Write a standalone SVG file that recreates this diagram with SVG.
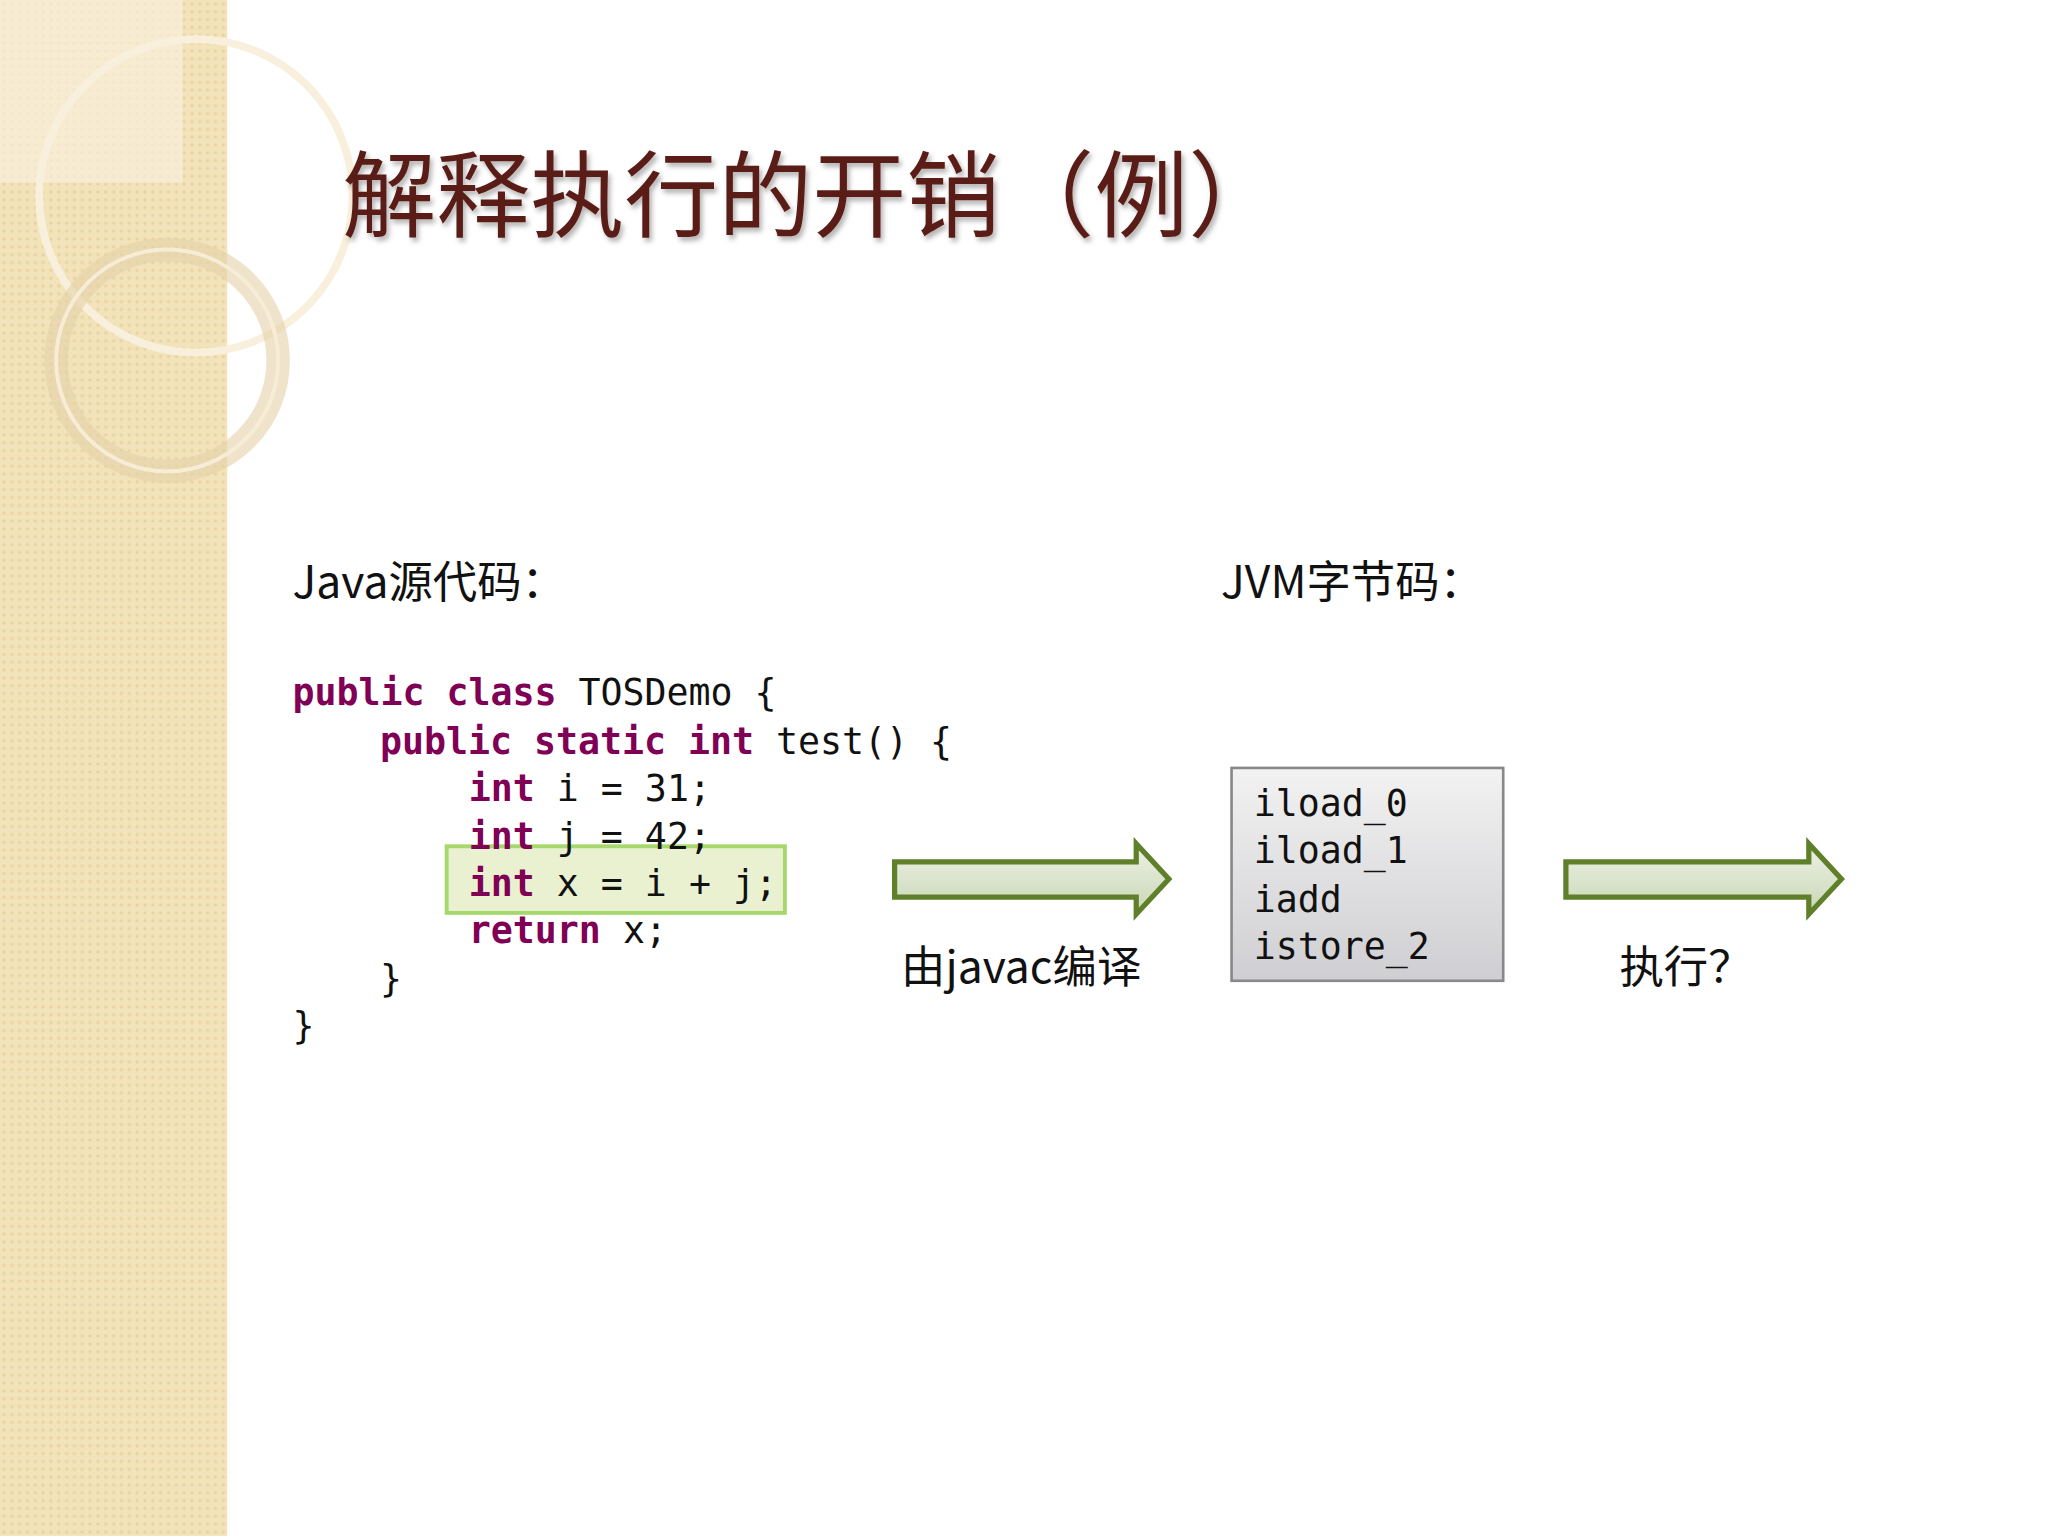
<svg xmlns="http://www.w3.org/2000/svg" width="2048" height="1536" viewBox="0 0 2048 1536">
<defs>
<style>
.cjk{font-family:"Noto Sans CJK SC","Noto Sans",sans-serif;fill:#111}
.code{font-family:"DejaVu Sans Mono","Liberation Mono",monospace;font-size:28px;fill:#111}
.kw{fill:#7f0055;font-weight:bold}
.arrow{stroke:#5f7f2a;stroke-width:4;fill:url(#ag)}
</style>
<linearGradient id="ag" x1="0" y1="0" x2="0" y2="1"><stop offset="0" stop-color="#eef2e6"/><stop offset="1" stop-color="#c9d6b4"/></linearGradient>
<linearGradient id="bg" x1="0" y1="0" x2="0" y2="1"><stop offset="0" stop-color="#f2f2f2"/><stop offset="1" stop-color="#cfcfd3"/></linearGradient>
<pattern id="pt" width="6" height="6" patternUnits="userSpaceOnUse"><rect width="6" height="6" fill="#f3e3bb"/><circle cx="3" cy="3" r="1.3" fill="#ead39f"/></pattern>
<filter id="sh"><feDropShadow dx="2" dy="3" stdDeviation="2" flood-color="#000" flood-opacity="0.3"/></filter>
</defs>
<rect width="2048" height="1536" fill="#fff"/>
<g transform="scale(1.306)">
<g id="sidebar">
<rect x="0" y="0" width="174" height="1176" fill="url(#pt)"/>
<rect x="0" y="0" width="140" height="140" fill="#f8eedb" opacity="0.7"/>
<circle cx="150" cy="150" r="120" fill="none" stroke="#f8f0dc" stroke-width="6"/>
<circle cx="128" cy="276" r="85" fill="none" stroke="#e4d2a8" stroke-width="18" opacity="0.6"/>
<circle cx="128" cy="276" r="85" fill="none" stroke="#f7edd6" stroke-width="3"/>
</g>
<g id="title"><text x="262" y="176" class="cjk" font-size="72" style="fill:#5a1e14" filter="url(#sh)">解释执行的开销（例）</text></g>
<g id="label-java"><text x="224" y="458" class="cjk" font-size="34">Java源代码：</text></g>
<g id="label-jvm"><text x="935" y="458" class="cjk" font-size="34">JVM字节码：</text></g>
<g id="source">
<rect x="342" y="648" width="259" height="51" fill="#eaf1d1" stroke="#a6d86e" stroke-width="3"/>
<text class="code" x="224" y="540"><tspan class="kw">public class</tspan> TOSDemo {</text>
<text class="code" x="291" y="577"><tspan class="kw">public static int</tspan> test() {</text>
<text class="code" x="359" y="613"><tspan class="kw">int</tspan> i = 31;</text>
<text class="code" x="359" y="650"><tspan class="kw">int</tspan> j = 42;</text>
<text class="code" x="359" y="686"><tspan class="kw">int</tspan> x = i + j;</text>
<text class="code" x="359" y="722"><tspan class="kw">return</tspan> x;</text>
<text class="code" x="291" y="759">}</text>
<text class="code" x="224" y="795">}</text>
</g>
<g id="bytecode">
<rect x="943" y="588" width="208" height="163" fill="url(#bg)" stroke="#888" stroke-width="2"/>
<text class="code" x="960" y="625">iload_0</text>
<text class="code" x="960" y="661">iload_1</text>
<text class="code" x="960" y="698">iadd</text>
<text class="code" x="960" y="734">istore_2</text>
</g>
<g id="connectors">
<path class="arrow" d="M685 660 H870 V646 L895 673 L870 700 V687 H685 Z"/>
<path class="arrow" d="M1199 660 H1385 V646 L1410 673 L1385 700 V687 H1199 Z"/>
</g>
<g id="label-compile"><text x="690" y="753" class="cjk" font-size="34">由javac编译</text></g>
<g id="label-exec"><text x="1240" y="753" class="cjk" font-size="34">执行？</text></g>
</g>
</svg>
